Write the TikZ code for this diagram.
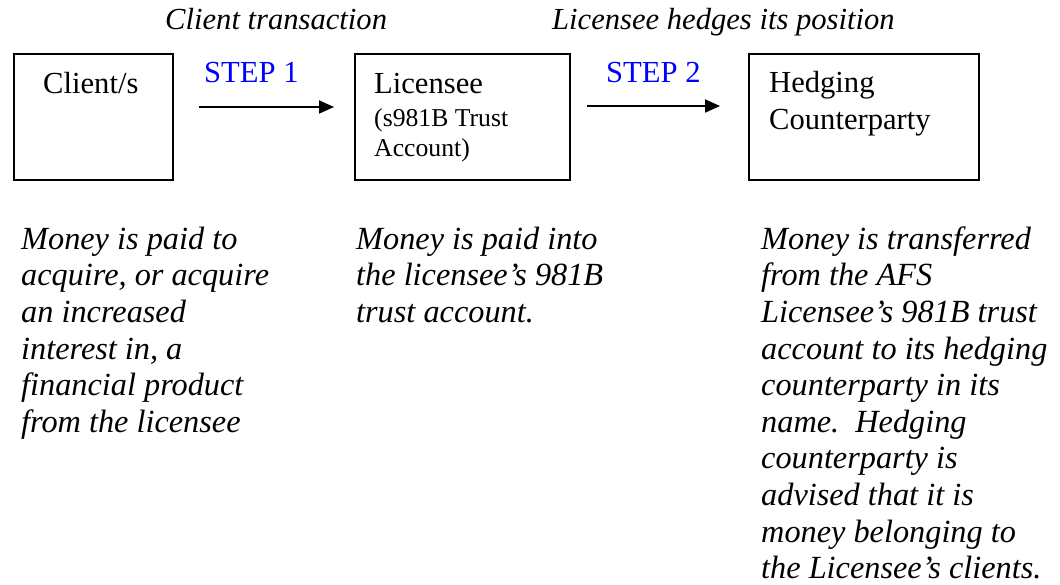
\documentclass[tikz,border=0pt]{standalone}
\usepackage{fontspec}
\setmainfont{Liberation Serif}
\usetikzlibrary{arrows.meta}
\definecolor{stepblue}{RGB}{0,0,255}
\begin{document}
\begin{tikzpicture}[x=1pt,y=-1pt,
  box/.style={draw=black,line width=1.8pt,inner sep=0pt,anchor=north west},
  big/.style={font=\fontsize{30.6}{37}\selectfont},
  small/.style={font=\fontsize{25.7}{30}\selectfont},
  txt/.style={inner sep=0pt,anchor=base west},
  para/.style={inner sep=0pt,anchor=north west,align=left,font=\fontsize{32.3}{36.6}\selectfont\itshape},
  stepl/.style={txt,big,text=stepblue},
  flow/.style={line width=1.8pt,-{Triangle[length=15pt,width=13pt]}}]
\useasboundingbox (0,0) rectangle (1060,585);
% headers
\node[txt,big,font=\fontsize{30.6}{37}\selectfont\itshape] (h1) at (165,30) {Client transaction};
\node[txt,big,font=\fontsize{30.6}{37}\selectfont\itshape] (h2) at (552,30) {Licensee hedges its position};
% boxes
\node[box,minimum width=159pt,minimum height=126pt] (b1) at (13,53) {};
\node[box,minimum width=215pt,minimum height=126pt] (b2) at (354,53) {};
\node[box,minimum width=230pt,minimum height=126pt] (b3) at (748,53) {};
% box texts
\node[txt,big] (t1) at (43,94) {Client/s};
\node[txt,big] (t2a) at (374,94) {Licensee};
\node[txt,small] (t2b) at (374,127) {(s981B Trust};
\node[txt,small] (t2c) at (374,157) {Account)};
\node[txt,big] (t3a) at (769,93) {Hedging};
\node[txt,big] (t3b) at (769,130) {Counterparty};
% steps
\node[stepl] (s1) at (204,83) {STEP 1};
\node[stepl] (s2) at (606,83) {STEP 2};
\coordinate (a1s) at (199,107);
\coordinate (a1e) at (334,107);
\coordinate (a2s) at (587,106);
\coordinate (a2e) at (720,106);
\draw[flow] (a1s) -- (a1e);
\draw[flow] (a2s) -- (a2e);
% paragraphs
\node[para] (p1) at (21,223.4) {\strut Money is paid to\\acquire, or acquire\\an increased\\interest in, a\\financial product\\from the licensee};
\node[para] (p2) at (356,223.4) {\strut Money is paid into\\the licensee’s 981B\\trust account.};
\node[para] (p3) at (761,223.4) {\strut Money is transferred\\from the AFS\\Licensee’s 981B trust\\account to its hedging\\counterparty in its\\name.\ \ Hedging\\counterparty is\\advised that it is\\money belonging to\\the Licensee’s clients.};
\end{tikzpicture}
\end{document}
